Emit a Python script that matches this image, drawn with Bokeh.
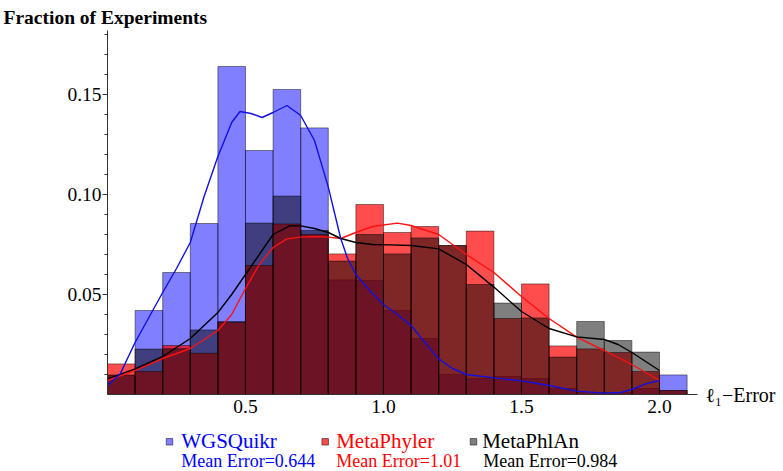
from bokeh.plotting import figure
from bokeh.models import Range1d, FixedTicker, PrintfTickFormatter, Label, LinearAxis
from bokeh.layouts import column
from bokeh.embed import file_html
from bokeh.resources import INLINE

# ---------------- data ----------------
bin_left = [0.0, 0.1, 0.2, 0.3, 0.4, 0.5, 0.6, 0.7, 0.8, 0.9, 1.0,
            1.1, 1.2, 1.3, 1.4, 1.5, 1.6, 1.7, 1.8, 1.9, 2.0]
bin_width = 0.1

wgs_hist = [0.0095, 0.042, 0.061, 0.0855, 0.164, 0.122, 0.1525, 0.1333, 0.0573, 0.057, 0.042,
            0.028, 0.010, 0.008, 0.009, 0.008, 0.003, 0.001, 0.001, 0.003, 0.0098]
mph_hist = [0.0153, 0.0115, 0.0245, 0.0206, 0.036, 0.0645, 0.0853, 0.080, 0.0703, 0.095, 0.081,
            0.084, 0.0745, 0.0817, 0.038, 0.0553, 0.0243, 0.0228, 0.021, 0.0115, 0.002]
mpa_hist = [0.0098, 0.0227, 0.0229, 0.0323, 0.0365, 0.0857, 0.0992, 0.082, 0.0667, 0.080, 0.0703,
            0.0783, 0.0745, 0.055, 0.0457, 0.0383, 0.0187, 0.0365, 0.027, 0.0212, 0.002]

wgs_kde_x = [0.0, 0.046, 0.10, 0.20, 0.25, 0.30, 0.35, 0.40, 0.45, 0.48, 0.52, 0.56, 0.60, 0.65,
             0.70, 0.75, 0.80, 0.845, 0.87, 0.90, 0.95, 1.00, 1.05, 1.10, 1.15, 1.20, 1.25, 1.30,
             1.40, 1.50, 1.60, 1.70, 1.80, 1.86, 1.90, 1.95, 2.00]
wgs_kde_y = [0.0045, 0.0103, 0.026, 0.051, 0.063, 0.076, 0.099, 0.119, 0.136, 0.1415, 0.1405, 0.1385,
             0.141, 0.1445, 0.1395, 0.127, 0.1037, 0.078, 0.068, 0.060, 0.052, 0.045, 0.040,
             0.0345, 0.026, 0.0178, 0.013, 0.010, 0.0083, 0.0068, 0.0045, 0.0017, 0.0007, 0.001,
             0.0025, 0.0053, 0.007]

mph_kde_x = [0.0, 0.10, 0.20, 0.30, 0.40, 0.45, 0.50, 0.55, 0.60, 0.65, 0.70, 0.75, 0.80, 0.845,
             0.90, 0.96, 1.05, 1.10, 1.20, 1.30, 1.40, 1.50, 1.60, 1.70, 1.80, 1.90, 2.00]
mph_kde_y = [0.007, 0.012, 0.018, 0.023, 0.032, 0.040, 0.053, 0.065, 0.0735, 0.0778, 0.0787, 0.079,
             0.0787, 0.078, 0.081, 0.084, 0.0857, 0.0845, 0.080, 0.070, 0.061, 0.049, 0.038,
             0.0287, 0.022, 0.015, 0.007]

mpa_kde_x = [0.0, 0.10, 0.20, 0.30, 0.40, 0.45, 0.50, 0.56, 0.60, 0.66, 0.70, 0.75, 0.80, 0.845,
             0.90, 0.96, 1.02, 1.10, 1.20, 1.30, 1.40, 1.50, 1.60, 1.70, 1.80, 1.85, 1.90, 1.95, 2.00]
mpa_kde_y = [0.0078, 0.0128, 0.019, 0.028, 0.041, 0.050, 0.060, 0.072, 0.080, 0.0843, 0.0843, 0.083,
             0.081, 0.078, 0.076, 0.075, 0.0748, 0.0745, 0.0728, 0.065, 0.0537, 0.0415, 0.033,
             0.0288, 0.0275, 0.025, 0.021, 0.0165, 0.012]

series_names = ["WGSQuikr", "MetaPhyler", "MetaPhlAn"]
mean_errors = ["0.644", "1.01", "0.984"]

y_major = [0.05, 0.10, 0.15]
y_minor = [0.01, 0.02, 0.03, 0.04, 0.06, 0.07, 0.08, 0.09, 0.11, 0.12, 0.13, 0.14, 0.16, 0.17, 0.18]
x_major = [0.5, 1.0, 1.5, 2.0]

SERIF = "Liberation Serif"
W = 783
BL, BR = 107, 86          # left / right borders (page pixels)

# ---------------- main figure ----------------
p = figure(width=W, height=424, output_backend="svg", toolbar_location=None,
           x_range=Range1d(0, 2.1377), y_range=Range1d(0, 0.182),
           min_border_left=BL, min_border_right=BR, min_border_top=30, min_border_bottom=30,
           title="Fraction of Experiments")
p.outline_line_color = None
p.grid.visible = False
p.background_fill_color = "white"
p.border_fill_color = "white"

p.title.align = "left"
p.title.offset = -104
p.title.standoff = 5
p.title.text_font = SERIF
p.title.text_font_size = "19.5px"
p.title.text_font_style = "bold"
p.title.text_color = "black"

centers = [b + bin_width / 2 for b in bin_left]

bar_kw = dict(width=bin_width, bottom=0, line_color="black", line_alpha=0.45, line_width=1)
p.vbar(x=centers, top=wgs_hist, fill_color="#0000ff", fill_alpha=0.5, **bar_kw)
p.vbar(x=centers, top=mph_hist, fill_color="#ff0000", fill_alpha=0.7, **bar_kw)
p.vbar(x=centers, top=mpa_hist, fill_color="#000000", fill_alpha=0.5, **bar_kw)

p.line(mph_kde_x, mph_kde_y, line_color="#ff1010", line_width=1.4)
p.line(mpa_kde_x, mpa_kde_y, line_color="#000000", line_width=1.4)
p.line(wgs_kde_x, wgs_kde_y, line_color="#1010e0", line_width=1.4)

for ax in (p.xaxis[0], p.yaxis[0]):
    ax.axis_line_color = "#333333"
    ax.major_tick_line_color = "#333333"
    ax.minor_tick_line_color = "#333333"
    ax.major_label_text_font = SERIF
    ax.major_label_text_font_size = "19.5px"
    ax.major_label_text_color = "black"

p.yaxis.ticker = FixedTicker(ticks=y_major, minor_ticks=y_minor)
p.yaxis.formatter = PrintfTickFormatter(format="%.2f")
p.yaxis.major_tick_in = 0
p.yaxis.major_tick_out = 5
p.yaxis.minor_tick_in = 0
p.yaxis.minor_tick_out = 3
p.yaxis.major_label_standoff = 1

p.xaxis.ticker = FixedTicker(ticks=x_major, minor_ticks=[])
p.xaxis.formatter = PrintfTickFormatter(format="%.1f")
p.xaxis.major_tick_in = 0
p.xaxis.major_tick_out = 0
p.xaxis.major_label_standoff = 5

# x-axis title to the right of the axis end, via a right-hand axis with one tick at 0
xlab_axis = LinearAxis(ticker=FixedTicker(ticks=[0], minor_ticks=[]),
                       major_label_overrides={0: "ℓ₁−Error"},
                       axis_line_color=None, major_tick_line_color=None,
                       minor_tick_line_color=None, major_tick_in=0, major_tick_out=0,
                       minor_tick_in=0, minor_tick_out=0, major_label_standoff=8,
                       major_label_text_font=SERIF, major_label_text_font_size="20px",
                       major_label_text_color="black")
p.add_layout(xlab_axis, "right")

# ---------------- legend strip (frame aligned with the main frame, data = page px) ----------------
LH = 471 - 424
lg = figure(width=W, height=LH, output_backend="svg", toolbar_location=None,
            x_range=Range1d(BL, W - BR), y_range=Range1d(0, LH),
            min_border_left=BL, min_border_right=BR, min_border_top=0, min_border_bottom=0,
            x_axis_type=None, y_axis_type=None)
lg.outline_line_color = None
lg.grid.visible = False
lg.background_fill_color = "white"
lg.border_fill_color = "white"

name_colors = ["#0000ff", "#ff0000", "#000000"]
sq_fill = ["#0000ff", "#ff0000", "#000000"]
sq_alpha = [0.5, 0.7, 0.5]
sq_x = [169, 324.7, 473]
txt_x = [180.7, 335.7, 481.7]
err_x = [180.7, 335.7, 482.7]
sq_y = 471 - 441.3
name_base = 471 - 440
err_base = 471 - 460

lg.scatter(x=sq_x, y=[sq_y] * 3, marker="square", size=6.5, fill_color=sq_fill,
           fill_alpha=sq_alpha, line_color="black", line_alpha=0.5, line_width=1)
for i in range(3):
    lg.add_layout(Label(x=txt_x[i], y=name_base, text=series_names[i],
                        text_font=SERIF, text_font_size="21px", text_color=name_colors[i],
                        text_align="left", text_baseline="alphabetic"))
    lg.add_layout(Label(x=err_x[i], y=err_base, text="Mean Error=" + mean_errors[i],
                        text_font=SERIF, text_font_size="18px", text_color=name_colors[i],
                        text_align="left", text_baseline="alphabetic"))

layout = column(p, lg, spacing=0)
open("out.html", "w").write(file_html(layout, INLINE))
